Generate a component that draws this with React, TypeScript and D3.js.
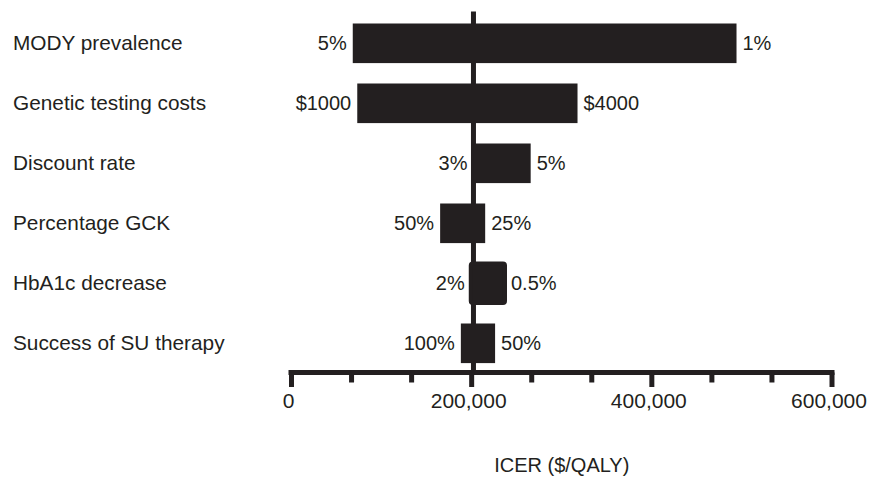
import React from "react";
import { scaleLinear, scaleBand, format } from "d3";

// tornado diagram: ICER range for each parameter
const categories = [
  "MODY prevalence",
  "Genetic testing costs",
  "Discount rate",
  "Percentage GCK",
  "HbA1c decrease",
  "Success of SU therapy",
];
const lowIcer = [68000, 73000, 202000, 165000, 199000, 188000];
const highIcer = [494000, 317500, 265500, 215000, 237000, 226000];
const leftLabels = ["5%", "$1000", "3%", "50%", "2%", "100%"];
const rightLabels = ["1%", "$4000", "5%", "25%", "0.5%", "50%"];
const baseIcer = 202000;
const majorTicks = [0, 200000, 400000, 600000];
const axisTitle = "ICER ($/QALY)";
const outlinedRows = ["HbA1c decrease"];

const W = 869;
const H = 478;
const ink = "#231f20";
const font = "'Liberation Sans', Arial, Helvetica, sans-serif";

const x = scaleLinear().domain([0, 600000]).range([291.5, 832]);
const y = scaleBand<string>()
  .domain(categories)
  .range([13.3, 373.3])
  .paddingInner(0.34)
  .paddingOuter(0.17);
const axisY = 372.5;

// minor ticks: two between each pair of majors
const minorTicks: number[] = [];
majorTicks.slice(1).forEach((t, i) => {
  const prev = majorTicks[i];
  const step = (t - prev) / 3;
  minorTicks.push(prev + step, prev + 2 * step);
});

export default function App() {
  const bw = y.bandwidth();
  return (
    <svg
      width={W}
      height={H}
      style={{ position: "absolute", left: 0, top: 0, background: "#fff" }}
      fontFamily={font}
    >
      {/* category names */}
      {categories.map((c) => (
        <text key={c} x={13} y={y(c)! + bw / 2} dy="0.33em" fontSize={20.8} fill={ink}>
          {c}
        </text>
      ))}

      {/* baseline line */}
      <line x1={x(baseIcer)} x2={x(baseIcer)} y1={11.5} y2={axisY} stroke={ink} strokeWidth={5} />

      {/* bars */}
      {categories.map((c, i) => {
        const x0 = x(lowIcer[i]);
        const x1 = x(highIcer[i]);
        const outlined = outlinedRows.includes(c);
        return (
          <g key={c}>
            <rect
              x={x0}
              y={y(c)}
              width={x1 - x0}
              height={bw}
              fill={ink}
              stroke={outlined ? ink : "none"}
              strokeWidth={outlined ? 4 : 0}
              rx={outlined ? 2 : 0}
            />
            <text
              x={x0 - 6}
              y={y(c)! + bw / 2}
              dy="0.35em"
              textAnchor="end"
              fontSize={20}
              fill={ink}
            >
              {leftLabels[i]}
            </text>
            <text x={x1 + 6} y={y(c)! + bw / 2} dy="0.35em" fontSize={20} fill={ink}>
              {rightLabels[i]}
            </text>
          </g>
        );
      })}

      {/* x axis */}
      <line x1={x(0) - 3} x2={x(600000) + 2.5} y1={axisY} y2={axisY} stroke={ink} strokeWidth={5} />
      {majorTicks.map((t) => (
        <g key={t}>
          <line x1={x(t)} x2={x(t)} y1={axisY} y2={387} stroke={ink} strokeWidth={5} />
          <text x={x(t) - 3} y={408} textAnchor="middle" fontSize={21} fill={ink}>
            {format(",")(t)}
          </text>
        </g>
      ))}
      {minorTicks.map((t) => (
        <line key={t} x1={x(t)} x2={x(t)} y1={axisY} y2={382.5} stroke={ink} strokeWidth={5} />
      ))}

      <text
        x={(x(0) + x(600000)) / 2}
        y={471.5}
        textAnchor="middle"
        fontSize={20}
        fill={ink}
      >
        {axisTitle}
      </text>
    </svg>
  );
}
